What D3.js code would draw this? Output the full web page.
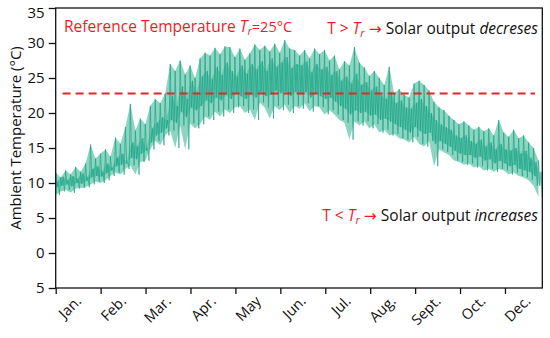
<!DOCTYPE html>
<html><head><meta charset="utf-8">
<script src="https://cdn.jsdelivr.net/npm/d3@7"></script>
<style>
html,body{margin:0;padding:0;background:#fff;}
svg{display:block;font-family:"Open Sans","DejaVu Sans",sans-serif;}
</style></head>
<body>
<svg id="chart" width="550" height="338"></svg>
<script>
// ---- data ----
const monthLabels = ["Jan.","Feb.","Mar.","Apr.","May","Jun.","Jul.","Aug.","Sept.","Oct.","Dec."];
const monthTickDays = [0,33.7,67.4,101.1,134.8,168.5,202.2,235.9,269.6,303.3,337];
const yTicks = [-5,0,5,10,15,20,25,30,35];
const yTickLabels = ["5","0","5","10","15","20","25","30","35"];
const refTemp = 22.8;
const refSpanDays = [5.2, 359.5];
// spike tops / bottoms, sampled evenly across the year (°C)
const tempHigh = [11.5,10.8,11.8,11.2,12.3,11.6,12.8,15.5,13.5,14.2,14.8,13.8,16.5,15.6,18.0,21.3,17.5,19.2,18.4,21.0,
  22.0,21.4,22.8,27.0,26.0,27.5,25.5,26.8,25.0,27.8,28.6,28.2,29.3,28.4,29.5,29.4,28.0,29.2,27.6,28.5,
  29.8,29.0,29.6,28.8,29.9,28.6,30.4,29.2,29.0,28.2,29.0,27.8,29.2,28.4,29.0,27.5,28.2,26.2,27.4,26.8,
  29.4,27.2,26.5,25.3,26.0,25.0,24.0,26.6,22.8,23.4,22.6,22.2,24.2,24.6,24.0,23.2,21.6,20.8,20.4,19.6,
  19.0,18.4,18.8,18.2,17.6,18.0,17.4,17.8,16.8,19.0,17.2,16.6,17.6,16.4,16.8,15.8,15.0,13.2];
const tempLow = [8.3,8.8,9.0,8.6,9.2,9.3,9.4,9.8,10.2,10.0,10.4,11.0,11.5,11.2,12.0,12.5,11.2,13.0,13.2,14.8,
  16.0,15.4,16.8,17.5,15.0,18.2,14.8,18.5,17.8,18.4,19.5,19.0,20.2,19.5,20.5,20.0,20.8,21.0,20.0,20.5,
  19.0,21.5,20.8,19.2,21.0,20.4,21.2,20.0,21.0,20.6,21.4,20.2,21.0,20.8,19.8,20.4,19.8,19.0,18.6,16.2,
  18.8,18.2,18.8,17.8,18.4,17.2,17.6,16.8,17.0,16.4,16.2,15.8,16.6,15.6,15.2,16.0,12.4,14.8,14.4,14.0,
  13.2,13.0,12.6,12.8,12.2,12.4,11.8,12.0,11.6,12.0,11.8,11.2,11.5,11.0,10.8,10.4,9.6,8.0];
// typical (core) daily swing between the spikes (°C)
const coreHigh = [10.2,10.9,10.4,11.0,10.6,11.4,10.8,12.0,12.4,11.6,
  12.8,12.2,13.6,14.2,13.0,15.8,15.2,16.4,15.0,17.8,
  18.6,19.4,19.0,22.5,21.0,23.8,22.0,24.6,23.0,25.2,
  26.0,24.8,26.6,25.4,27.2,26.0,25.2,26.8,25.6,27.0,
  26.2,27.4,26.0,27.8,26.6,27.2,28.0,26.4,27.0,26.8,
  27.4,25.8,27.0,26.2,26.6,25.4,26.0,24.6,25.2,24.2,
  25.6,24.0,24.4,23.2,23.8,22.6,22.0,23.0,21.4,21.8,
  20.8,20.6,21.4,22.0,21.0,20.0,19.0,18.4,18.0,17.6,
  16.8,16.4,16.8,16.0,15.6,16.2,15.2,15.8,14.8,15.6,
  14.8,14.6,15.0,14.2,14.6,13.6,13.0,11.6];
const coreLow = [9.4,9.6,9.8,9.5,10.0,9.9,10.3,10.8,11.0,10.9,
  11.4,11.8,12.4,12.6,12.8,13.6,13.4,14.2,14.6,15.8,
  16.8,17.2,17.8,19.0,18.6,20.2,19.4,20.8,20.4,21.0,
  21.8,21.4,22.2,21.8,22.6,22.0,22.8,22.4,22.0,22.6,
  22.2,23.0,22.4,22.6,23.2,22.8,23.0,22.4,23.0,22.6,
  23.0,22.2,22.8,22.4,22.0,22.2,21.6,21.0,20.6,19.8,
  20.4,20.0,20.2,19.6,19.8,19.0,19.2,18.8,18.4,18.0,
  17.6,17.2,18.0,17.4,17.0,17.2,15.6,16.0,15.6,15.2,
  14.6,14.2,14.0,14.0,13.6,13.8,13.2,13.4,12.8,13.2,
  12.8,12.4,12.6,12.0,11.8,11.6,11.0,9.6];

// ---- layout ----
const svg = d3.select("#chart");
const m = {left:55.7, right:542.3, top:8, bottom:288};
const x = d3.scaleLinear().domain([0,365]).range([m.left,m.right]);
const y = d3.scaleLinear().domain([-5,35]).range([m.bottom,m.top]);

const n = tempHigh.length;
const step = 365/(n-0.25);
const q = step/4;
const pts = tempHigh.map((h,i)=>({d:i*step, hi:h, lo:tempLow[i], ch:coreHigh[i], cl:coreLow[i]}));

const teal = "#17a385";
// light outer wash
svg.append("path").datum(pts)
  .attr("fill","#5ec3a7").attr("fill-opacity",0.7)
  .attr("d", d3.area().x(p=>x(p.d)).y0(p=>y(p.lo)).y1(p=>y(p.hi)));
// core band
svg.append("path").datum(pts)
  .attr("fill","#35b294").attr("fill-opacity",0.45)
  .attr("d", d3.area().x(p=>x(p.d+q)).y0(p=>y(p.cl)).y1(p=>y(p.ch)));
// spikes
const zig = [];
pts.forEach(p=>{
  zig.push([p.d, p.hi]); zig.push([p.d+q, p.cl]);
  zig.push([p.d+2*q, p.ch]); zig.push([p.d+3*q, p.lo]);
});
svg.append("path").datum(zig)
  .attr("fill","none").attr("stroke",teal).attr("stroke-width",0.8).attr("stroke-opacity",0.85)
  .attr("d", d3.line().x(p=>x(p[0])).y(p=>y(p[1])));

// reference line
svg.append("line")
  .attr("x1",x(refSpanDays[0])).attr("x2",x(refSpanDays[1]))
  .attr("y1",y(refTemp)).attr("y2",y(refTemp))
  .attr("stroke","#e8232a").attr("stroke-width",2).attr("stroke-dasharray","8,5");

// frame
svg.append("rect").attr("x",m.left).attr("y",m.top)
  .attr("width",m.right-m.left).attr("height",m.bottom-m.top)
  .attr("fill","none").attr("stroke","#111").attr("stroke-width",1.3);

// y axis
const yAxis = svg.append("g").attr("transform",`translate(${m.left},0)`)
  .call(d3.axisLeft(y).tickValues(yTicks).tickSize(7).tickPadding(4)
     .tickFormat((v,i)=>yTickLabels[i]));
yAxis.select(".domain").remove();
yAxis.selectAll("line").attr("stroke","#111").attr("stroke-width",1.3);
yAxis.selectAll("text").attr("font-size",15).attr("fill","#111")
  .attr("font-family","'Open Sans','DejaVu Sans',sans-serif");
// top label sits a little lower so it stays inside the picture
yAxis.selectAll(".tick").filter(v=>v===yTicks[yTicks.length-1]).select("text").attr("dy","0.6em");

// x axis
const xAxis = svg.append("g").attr("transform",`translate(0,${m.bottom})`)
  .call(d3.axisBottom(x).tickValues(monthTickDays).tickSize(6).tickFormat(""));
xAxis.select(".domain").remove();
xAxis.selectAll("line").attr("stroke","#111").attr("stroke-width",1.3);

const monthStep = monthTickDays[1]-monthTickDays[0];
svg.append("g").selectAll("text").data(monthLabels).join("text")
  .attr("transform",(d,i)=>`translate(${x(monthTickDays[i]+monthStep/2)+4},${m.bottom+14}) rotate(-45)`)
  .attr("text-anchor","end").attr("font-size",14.5).attr("fill","#111")
  .text(d=>d);

// y title
svg.append("text")
  .attr("transform",`translate(21,${(m.top+m.bottom)/2 - 10}) rotate(-90)`)
  .attr("text-anchor","middle").attr("font-size",15).attr("fill","#111")
  .text("Ambient Temperature (°C)");

// annotations
const red = "#ee1c25";
const t1 = svg.append("text").attr("x",64).attr("y",32).attr("font-size",15.5).attr("fill",red);
t1.append("tspan").text("Reference Temperature ");
t1.append("tspan").attr("font-style","italic").text("T");
t1.append("tspan").attr("font-style","italic").attr("font-size",11).attr("dy",3).text("r");
t1.append("tspan").attr("dy",-3).attr("font-size",14.5).text("=25°C");

function rule(yPos, sign, word){
  const t = svg.append("text").attr("x",538).attr("y",yPos).attr("text-anchor","end").attr("font-size",15.5);
  t.append("tspan").attr("fill",red).text(`T ${sign} `);
  t.append("tspan").attr("fill",red).attr("font-style","italic").text("T");
  t.append("tspan").attr("fill",red).attr("font-style","italic").attr("font-size",11).attr("dy",3).text("r");
  t.append("tspan").attr("fill",red).attr("dy",-3).text(" → ");
  t.append("tspan").attr("fill","#111").text("Solar output ");
  t.append("tspan").attr("fill","#111").attr("font-style","italic").text(word);
}
rule(34, ">", "decreses");
rule(221, "<", "increases");
</script>
</body></html>
